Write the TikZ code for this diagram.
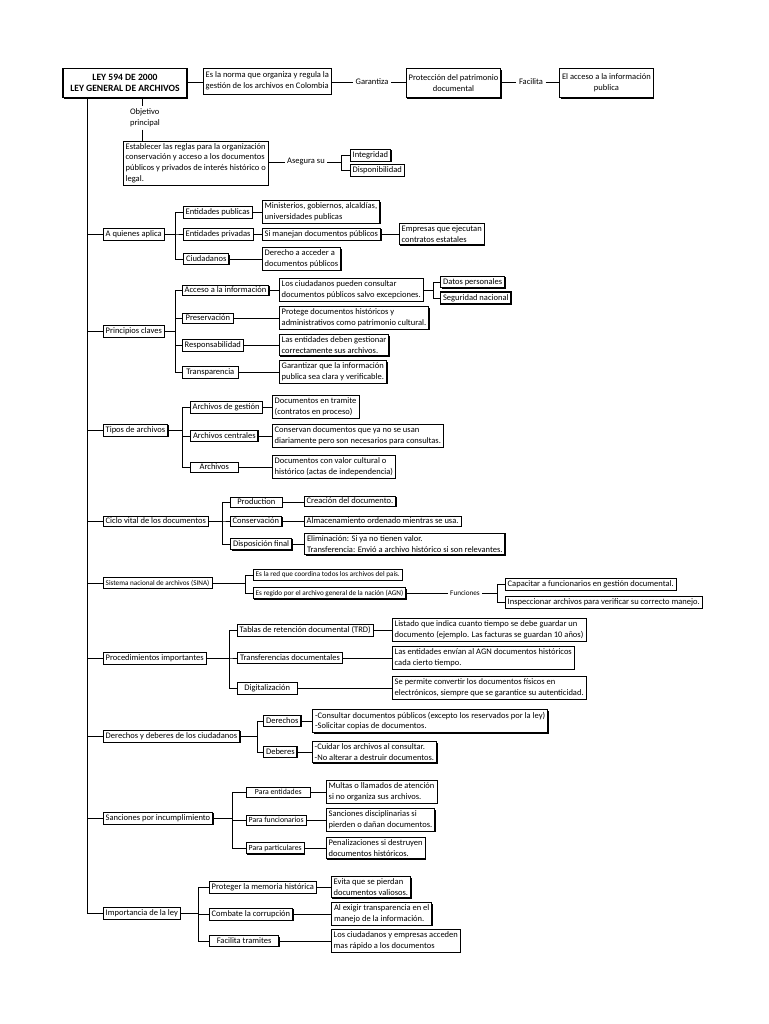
\documentclass[tikz,border=0pt]{standalone}
\usepackage{fontspec}
\setmainfont{Carlito}
\usetikzlibrary{positioning, shadows}

\newcommand{\fs}{\fontsize{8.5}{10.8}\selectfont}
\newcommand{\fsm}{\fontsize{7.8}{10.2}\selectfont}
\newcommand{\fss}{\fontsize{7.2}{9.6}\selectfont}

\tikzset{
  box/.style={draw, fill=white, line width=0.6pt, inner xsep=2.4pt, inner ysep=2.2pt,
    align=left, font=\fs, anchor=west,
    drop shadow={shadow xshift=1.1pt, shadow yshift=-1.1pt, opacity=1, fill=black}},
  boldbox/.style={box, line width=1.3pt},
  tbox/.style={box, font=\fss},
  lbl/.style={inner sep=2.5pt, align=left, font=\fs},
  link/.style={line width=0.9pt},
}

\begin{document}
\begin{tikzpicture}[x=1pt, y=-1pt]
\fill[white] (0,0) rectangle (768,1024);
\useasboundingbox (0,0) rectangle (768,1024);

% Cabecera
\node[boldbox, anchor=center, minimum width=124pt, minimum height=29pt, align=center,
  font=\bfseries\fontsize{9.6}{11.5}\selectfont, line width=1.6pt] (ley) at (125,83)
  {LEY 594 DE 2000\\LEY GENERAL DE ARCHIVOS};
\node[box, minimum height=26pt] (norma) at (203,81) {Es la norma que organiza y regula la\\gestión de los archivos en Colombia};
\node[lbl, anchor=center] (garantiza) at (372,82) {Garantiza};
\node[box, align=center, minimum height=29pt] (patrimonio) at (406,83) {Protección del patrimonio\\documental};
\node[lbl, anchor=center] (facilita) at (531,82) {Facilita};
\node[boldbox, align=center, minimum height=29pt] (accesopub) at (559,83) {El acceso a la información\\publica};
\draw[link] (ley.east |- garantiza) -- (garantiza -| norma.west);
\draw[link] (norma.east |- garantiza) -- (garantiza);
\draw[link] (garantiza) -- (garantiza -| patrimonio.west);
\draw[link] (patrimonio.east |- facilita) -- (facilita);
\draw[link] (facilita) -- (facilita -| accesopub.west);

% Objetivo principal
\node[lbl] (objetivo) at (145,118) {Objetivo\\principal};
\node[box] (reglas) at (123,163) {Establecer las reglas para la organización\\conservación y acceso a los documentos\\públicos y privados de interés histórico o\\legal.};
\node[lbl, anchor=center] (asegura) at (306,162) {Asegura su};
\node[box] (integridad) at (350,155) {Integridad};
\node[box] (disponibilidad) at (350,170) {Disponibilidad};
\coordinate (aseguraB) at (341,162);
\draw[link] (ley.south -| 142,0) -- (objetivo.north -| 142,0);
\draw[link] (objetivo.south -| 142,0) -- (reglas.north -| 142,0);
\draw[link] (reglas.east |- asegura) -- (asegura);
\foreach \c in {integridad, disponibilidad}
  \draw[link] (asegura) -- (aseguraB) |- (\c.west);

% A quienes aplica
\node[box] (aplica) at (103,234) {A quienes aplica};
\node[box] (publicas) at (183,212) {Entidades publicas};
\node[box] (privadas) at (183,234) {Entidades privadas};
\node[boldbox] (ciudadanos) at (183,259) {Ciudadanos};
\node[box] (ministerios) at (262,212) {Ministerios, gobiernos, alcaldías,\\universidades publicas};
\node[box] (manejan) at (262,234) {Si manejan documentos públicos};
\node[box] (empresas) at (399,234) {Empresas que ejecutan\\contratos estatales};
\node[box] (derecho) at (262,259) {Derecho a acceder a\\documentos públicos};
\coordinate (aplicaB) at (175,234);
\foreach \c in {publicas, privadas, ciudadanos}
  \draw[link] (aplica) -- (aplicaB) |- (\c.west);
\draw[link] (publicas) -- (ministerios);
\draw[link] (privadas) -- (manejan) -- (empresas);
\draw[link] (ciudadanos) -- (derecho);

% Principios claves
\node[box] (principios) at (103,331) {Principios claves};
\node[box] (accesoinfo) at (182,290) {Acceso a la información};
\node[box, minimum width=51pt] (preservacion) at (182,318) {Preservación};
\node[box] (responsabilidad) at (182,345) {Responsabilidad};
\node[box, minimum width=56pt] (transparencia) at (182,372) {Transparencia};
\node[box] (pueden) at (279,290) {Los ciudadanos pueden consultar\\documentos públicos salvo excepciones.};
\node[boldbox] (datos) at (440,282) {Datos personales};
\node[boldbox] (seguridad) at (440,298) {Seguridad nacional};
\node[box] (protege) at (279,318) {Protege documentos históricos y\\administrativos como patrimonio cultural.};
\node[box] (deben) at (279,345) {Las entidades deben gestionar\\correctamente sus archivos.};
\node[box] (garantizar) at (279,372) {Garantizar que la información\\publica sea clara y verificable.};
\coordinate (principiosB) at (175,331);
\coordinate (puedenB) at (433,290);
\foreach \c in {accesoinfo, preservacion, responsabilidad, transparencia}
  \draw[link] (principios) -- (principiosB) |- (\c.west);
\draw[link] (accesoinfo) -- (pueden);
\draw[link] (preservacion) -- (protege);
\draw[link] (responsabilidad) -- (deben);
\draw[link] (transparencia) -- (garantizar);
\foreach \c in {datos, seguridad}
  \draw[link] (pueden) -- (puedenB) |- (\c.west);

% Tipos de archivos
\node[box] (tipos) at (103,430) {Tipos de archivos};
\node[box] (gestion) at (190,407) {Archivos de gestión};
\node[boldbox] (centrales) at (190,436) {Archivos centrales};
\node[box, minimum width=48pt] (archivos) at (190,467) {Archivos};
\node[box] (tramite) at (272,407) {Documentos en tramite\\(contratos en proceso)};
\node[box] (conservan) at (272,436) {Conservan documentos que ya no se usan\\diariamente pero son necesarios para consultas.};
\node[box] (valor) at (272,467) {Documentos con valor cultural o\\histórico (actas de independencia)};
\coordinate (tiposB) at (182,430);
\foreach \c in {gestion, centrales, archivos}
  \draw[link] (tipos) -- (tiposB) |- (\c.west);
\draw[link] (gestion) -- (tramite);
\draw[link] (centrales) -- (conservan);
\draw[link] (archivos) -- (valor);

% Ciclo vital
\node[box] (ciclo) at (103,521) {Ciclo vital de los documentos};
\node[box, minimum width=52pt] (production) at (230,502) {Production};
\node[box] (conservacion) at (230,521) {Conservación};
\node[boldbox] (disposicion) at (230,544) {Disposición final};
\node[box] (creacion) at (304,501) {Creación del documento.};
\node[box] (almacen) at (304,521) {Almacenamiento ordenado mientras se usa.};
\node[boldbox] (eliminacion) at (304,544) {Eliminación: Si ya no tienen valor.\\Transferencia: Envió a archivo histórico si son relevantes.};
\coordinate (cicloB) at (222,521);
\foreach \c in {production, conservacion, disposicion}
  \draw[link] (ciclo) -- (cicloB) |- (\c.west);
\draw[link] (production.east) -- (production.east -| creacion.west);
\draw[link] (conservacion) -- (almacen);
\draw[link] (disposicion) -- (eliminacion);

% SINA
\node[tbox] (sina) at (103,583) {Sistema nacional de archivos (SINA)};
\node[tbox] (red) at (253,575) {Es la red que coordina todos los archivos del país.};
\node[tbox] (regido) at (253,593) {Es regido por el archivo general de la nación (AGN)};
\node[lbl, anchor=center, font=\fss] (funciones) at (465,593) {Funciones};
\node[box] (capacitar) at (505,584) {Capacitar a funcionarios en gestión documental.};
\node[box] (inspeccionar) at (505,602) {Inspeccionar archivos para verificar su correcto manejo.};
\coordinate (sinaB) at (245,583);
\coordinate (funcionesB) at (497,593);
\foreach \c in {red, regido}
  \draw[link] (sina) -- (sinaB) |- (\c.west);
\draw[link] (regido) -- (funciones);
\foreach \c in {capacitar, inspeccionar}
  \draw[link] (funciones) -- (funcionesB) |- (\c.west);

% Procedimientos importantes
\node[box] (procedimientos) at (103,658) {Procedimientos importantes};
\node[box] (trd) at (237,630) {Tablas de retención documental (TRD)};
\node[boldbox] (transferencias) at (237,658) {Transferencias documentales};
\node[box, minimum width=60pt] (digitalizacion) at (237,688) {Digitalización};
\node[box] (listado) at (392,630) {Listado que indica cuanto tiempo se debe guardar un\\documento (ejemplo. Las facturas se guardan 10 años)};
\node[box] (envian) at (392,658) {Las entidades envían al AGN documentos históricos\\cada cierto tiempo.};
\node[box] (permite) at (392,688) {Se permite convertir los documentos físicos en\\electrónicos, siempre que se garantice su autenticidad.};
\coordinate (procedimientosB) at (229,658);
\foreach \c in {trd, transferencias, digitalizacion}
  \draw[link] (procedimientos) -- (procedimientosB) |- (\c.west);
\draw[link] (trd) -- (listado);
\draw[link] (transferencias) -- (envian);
\draw[link] (digitalizacion) -- (permite);

% Derechos y deberes
\node[box] (derdeb) at (103,736) {Derechos y deberes de los ciudadanos};
\node[boldbox] (derechos) at (263,721) {Derechos};
\node[boldbox] (deberes) at (263,752) {Deberes};
\node[boldbox] (consultar) at (312,721) {-Consultar documentos públicos (excepto los reservados por la ley)\\-Solicitar copias de documentos.};
\node[box] (cuidar) at (312,752) {-Cuidar los archivos al consultar.\\-No alterar a destruir documentos.};
\coordinate (derdebB) at (257,736);
\foreach \c in {derechos, deberes}
  \draw[link] (derdeb) -- (derdebB) |- (\c.west);
\draw[link] (derechos) -- (consultar);
\draw[link] (deberes) -- (cuidar);

% Sanciones
\node[box] (sanciones) at (103,818) {Sanciones por incumplimiento};
\node[box, font=\fsm, minimum width=64pt] (paraentidades) at (246,792) {Para entidades};
\node[box, font=\fsm] (parafuncionarios) at (246,820) {Para funcionarios};
\node[box, font=\fsm] (paraparticulares) at (246,848) {Para particulares};
\node[box] (multas) at (326,792) {Multas o llamados de atención\\si no organiza sus archivos.};
\node[box] (disciplinarias) at (326,820) {Sanciones disciplinarias si\\pierden o dañan documentos.};
\node[box] (penalizaciones) at (326,848) {Penalizaciones si destruyen\\documentos históricos.};
\coordinate (sancionesB) at (232,818);
\foreach \c in {paraentidades, parafuncionarios, paraparticulares}
  \draw[link] (sanciones) -- (sancionesB) |- (\c.west);
\draw[link] (paraentidades) -- (multas);
\draw[link] (parafuncionarios) -- (disciplinarias);
\draw[link] (paraparticulares) -- (penalizaciones);

% Importancia
\node[box] (importancia) at (103,913) {Importancia de la ley};
\node[box] (memoria) at (209,887) {Proteger la memoria histórica};
\node[box] (corrupcion) at (209,914) {Combate la corrupción};
\node[boldbox, minimum width=69pt] (tramites) at (209,941) {Facilita tramites};
\node[box] (valiosos) at (331,887) {Evita que se pierdan\\documentos valiosos.};
\node[boldbox] (exigir) at (331,914) {Al exigir transparencia en el\\manejo de la información.};
\node[box] (acceden) at (331,941) {Los ciudadanos y empresas acceden\\mas rápido a los documentos};
\coordinate (importanciaB) at (198,913);
\foreach \c in {memoria, corrupcion, tramites}
  \draw[link] (importancia) -- (importanciaB) |- (\c.west);
\draw[link] (memoria) -- (valiosos);
\draw[link] (corrupcion) -- (exigir);
\draw[link] (tramites) -- (acceden);

% Eje principal
\coordinate (spine) at ([xshift=25pt]ley.south west);
\foreach \n in {aplica, principios, tipos, ciclo, sina, procedimientos, derdeb, sanciones, importancia}
  \draw[link] (spine) |- (\n.west);
\end{tikzpicture}
\end{document}
